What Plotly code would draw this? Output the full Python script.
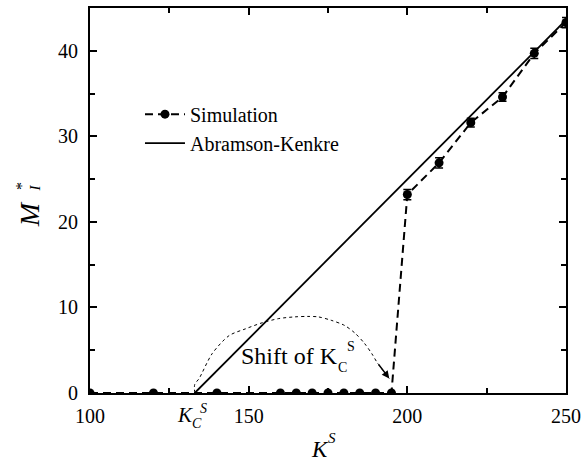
import plotly.graph_objects as go

# Simulation data
sim_x = [100, 120, 140, 160, 165, 170, 175, 180, 185, 190, 195, 200, 210, 220, 230, 240, 250]
sim_y = [0, 0, 0, 0, 0, 0, 0, 0, 0, 0, 0, 23.2, 26.9, 31.6, 34.6, 39.7, 43.3]
sim_err = [0, 0, 0, 0, 0, 0, 0, 0, 0, 0, 0, 0.6, 0.6, 0.5, 0.5, 0.6, 0.6]

# Abramson-Kenkre theory line
ak_x = [133, 250]
ak_y = [0, 43.6]

# "Shift of Kc" dotted arc
arc_x = [133, 133, 134.4, 138.5, 143.8, 149, 154.2, 159.5, 164.6, 168.5, 171.9, 176, 180.2, 183.5, 186.5, 188.8, 190.6, 194.3]
arc_y = [0, 1.0, 1.7, 4.6, 6.7, 7.5, 8.2, 8.7, 8.9, 8.95, 8.9, 8.5, 7.9, 7.0, 5.8, 4.6, 3.5, 1.7]

FONT = "Liberation Serif"

fig = go.Figure()
fig.add_trace(go.Scatter(
    x=arc_x, y=arc_y, mode="lines", showlegend=False,
    line=dict(color="black", width=1, dash="dot", shape="spline", smoothing=0.8), hoverinfo="skip"))
fig.add_trace(go.Scatter(
    x=sim_x, y=sim_y, mode="lines+markers", name="Simulation",
    line=dict(color="black", width=2, dash="8px,5px"),
    marker=dict(symbol="circle", size=9, color="black"),
    error_y=dict(type="data", array=sim_err, visible=True, width=4, thickness=1.5, color="black")))
fig.add_trace(go.Scatter(
    x=ak_x, y=ak_y, mode="lines", name="Abramson-Kenkre",
    line=dict(color="black", width=1.8)))

axis_common = dict(
    showline=True, linecolor="black", linewidth=2, mirror="allticks",
    ticks="inside", ticklen=7, tickwidth=1.5, tickcolor="black",
    showgrid=False, zeroline=False,
    tickfont=dict(family=FONT, size=20, color="black"),
)

fig.update_xaxes(range=[100, 250], tickvals=[100, 150, 200, 250], ticktext=["100", "150", "200", "250"],
                 minor=dict(dtick=25, tick0=100, ticks="inside", ticklen=5, tickwidth=1.5, tickcolor="black"),
                 ticklabelstandoff=4, **axis_common)
fig.update_yaxes(range=[0, 45], tickvals=[0, 10, 20, 30, 40],
                 minor=dict(dtick=5, tick0=0, ticks="inside", ticklen=5, tickwidth=1.5, tickcolor="black"),
                 ticklabelstandoff=6, **axis_common)

ann = []
# Arrow head at end of arc
ann.append(dict(x=arc_x[-1], y=arc_y[-1], ax=arc_x[-2], ay=arc_y[-2], xref="x", yref="y",
                axref="x", ayref="y", text="", showarrow=True, arrowhead=2, arrowsize=1,
                arrowwidth=1.5, arrowcolor="black"))
# Shift of Kc text
ann.append(dict(x=146.9, y=4.3, xref="x", yref="y", text="Shift of K", showarrow=False,
                xanchor="left", yanchor="middle", font=dict(family=FONT, size=24, color="black")))
ann.append(dict(x=177.8, y=2.95, xref="x", yref="y", text="C", showarrow=False, borderpad=0,
                xanchor="left", yanchor="middle", font=dict(family=FONT, size=14, color="black")))
ann.append(dict(x=180.8, y=5.4, xref="x", yref="y", text="S", showarrow=False, borderpad=0,
                xanchor="left", yanchor="middle", font=dict(family=FONT, size=14, color="black")))
# Kc^S tick label
ann.append(dict(x=130, y=-0.057, xref="x", yref="paper", text="<i>K</i>", showarrow=False,
                xanchor="center", yanchor="middle", font=dict(family=FONT, size=21, color="black")))
ann.append(dict(x=133.6, y=-0.080, xref="x", yref="paper", text="<i>C</i>", showarrow=False,
                xanchor="center", yanchor="middle", font=dict(family=FONT, size=14, color="black")))
ann.append(dict(x=135.9, y=-0.039, xref="x", yref="paper", text="<i>S</i>", showarrow=False,
                xanchor="center", yanchor="middle", font=dict(family=FONT, size=14, color="black")))
# x title K^S
ann.append(dict(x=0.483, y=-0.147, xref="paper", yref="paper", text="<i>K</i>", showarrow=False,
                xanchor="center", yanchor="middle", font=dict(family=FONT, size=23, color="black")))
ann.append(dict(x=0.508, y=-0.118, xref="paper", yref="paper", text="<i>S</i>", showarrow=False,
                xanchor="center", yanchor="middle", font=dict(family=FONT, size=15, color="black")))
# y title M_I^*
ann.append(dict(x=0, xshift=-61, y=20.9, xref="paper", yref="y", text="<i>M</i>", showarrow=False,
                textangle=-90, xanchor="center", yanchor="middle", font=dict(family=FONT, size=28, color="black")))
ann.append(dict(x=0, xshift=-55, y=23.9, xref="paper", yref="y", text="<i>I</i>", showarrow=False,
                textangle=-90, xanchor="center", yanchor="middle", font=dict(family=FONT, size=15, color="black")))
ann.append(dict(x=0, xshift=-68, y=24.2, xref="paper", yref="y", text="*", showarrow=False,
                textangle=-90, xanchor="center", yanchor="middle", font=dict(family=FONT, size=16, color="black")))

fig.update_layout(
    width=587, height=464,
    margin=dict(l=90, r=15, t=6, b=71),
    paper_bgcolor="white", plot_bgcolor="white",
    font=dict(family=FONT, color="black"),
    showlegend=True,
    legend=dict(x=0.105, y=0.775, xanchor="left", yanchor="top", bgcolor="rgba(0,0,0,0)",
                font=dict(family=FONT, size=20, color="black"), tracegroupgap=0, itemwidth=40),
    annotations=ann,
)

fig.write_html("out.html")
